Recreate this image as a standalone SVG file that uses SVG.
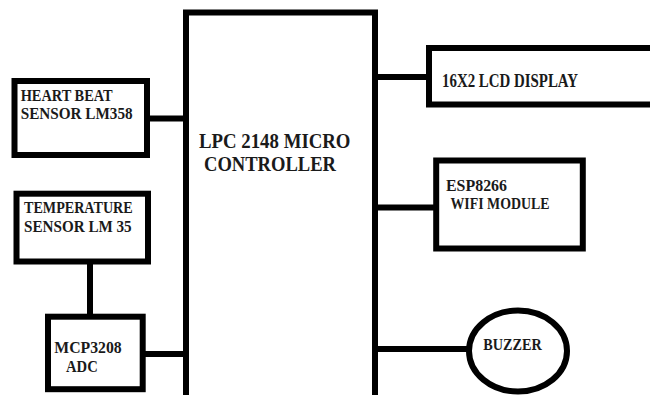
<svg xmlns="http://www.w3.org/2000/svg" width="650" height="395" viewBox="0 0 650 395">
<style>
.box{fill:#fff;stroke:#000;stroke-width:6}
.wire{fill:none;stroke:#000;stroke-width:6}
.dot{fill:#000}
text{font-family:"Liberation Serif","Times New Roman",serif;font-weight:bold;fill:#1a1a1a}
.s{font-size:16.5px}
.m{font-size:18px}
.big{font-size:22px}
</style>
<rect width="650" height="395" fill="#fff"/>
<g id="connectors">
<path class="wire" d="M147 118.5H187"/>
<circle class="dot" cx="188" cy="118.5" r="4"/>
<path class="wire" d="M90 258V321"/>
<circle class="dot" cx="90" cy="259" r="4"/>
<circle class="dot" cx="90" cy="320" r="4"/>
<path class="wire" d="M142 354H187"/>
<circle class="dot" cx="187" cy="354" r="4"/>
<path class="wire" d="M375 77H432"/>
<circle class="dot" cx="432" cy="77" r="4"/>
<path class="wire" d="M375 207.5H440"/>
<circle class="dot" cx="440" cy="207.5" r="4"/>
<path class="wire" d="M375 349H472"/>
<circle class="dot" cx="375" cy="349" r="4"/>
<circle class="dot" cx="472" cy="349" r="4"/>
</g>
<g id="mcu">
<path class="box" d="M186 400V12.5H375V400"/>
<text class="big" x="199" y="147.5" textLength="151.5" lengthAdjust="spacingAndGlyphs">LPC 2148 MICRO</text>
<text class="big" x="204" y="170.5" textLength="132" lengthAdjust="spacingAndGlyphs">CONTROLLER</text>
</g>
<g id="heartbeat">
<rect class="box" x="14.5" y="81" width="132.5" height="74"/>
<text class="s" x="20.7" y="101" textLength="92" lengthAdjust="spacingAndGlyphs">HEART BEAT</text>
<text class="s" x="20.7" y="119" textLength="112" lengthAdjust="spacingAndGlyphs">SENSOR LM358</text>
</g>
<g id="temperature">
<rect class="box" x="16.5" y="193.7" width="131.5" height="67.8"/>
<text class="s" x="24" y="212.5" textLength="108.7" lengthAdjust="spacingAndGlyphs">TEMPERATURE</text>
<text class="s" x="24" y="232.3" textLength="107.7" lengthAdjust="spacingAndGlyphs">SENSOR LM 35</text>
</g>
<g id="adc">
<rect class="box" x="48" y="316.7" width="94.7" height="72.5"/>
<text class="s" x="54.3" y="352.5" textLength="67.4" lengthAdjust="spacingAndGlyphs">MCP3208</text>
<text class="s" x="66" y="372" textLength="31.7" lengthAdjust="spacingAndGlyphs">ADC</text>
</g>
<g id="lcd">
<path class="box" d="M660 48H429V104.5H660"/>
<text class="m" x="442" y="86.7" textLength="136" lengthAdjust="spacingAndGlyphs">16X2 LCD DISPLAY</text>
</g>
<g id="esp">
<rect class="box" x="436.2" y="160.5" width="146.6" height="88"/>
<text class="s" x="446" y="190.5" textLength="61" lengthAdjust="spacingAndGlyphs">ESP8266</text>
<text class="s" x="450.5" y="209" textLength="99" lengthAdjust="spacingAndGlyphs">WIFI MODULE</text>
</g>
<g id="buzzer">
<ellipse class="box" cx="518" cy="351" rx="49" ry="40.5"/>
<text class="s" x="483.3" y="350" textLength="58.4" lengthAdjust="spacingAndGlyphs">BUZZER</text>
</g>
</svg>
